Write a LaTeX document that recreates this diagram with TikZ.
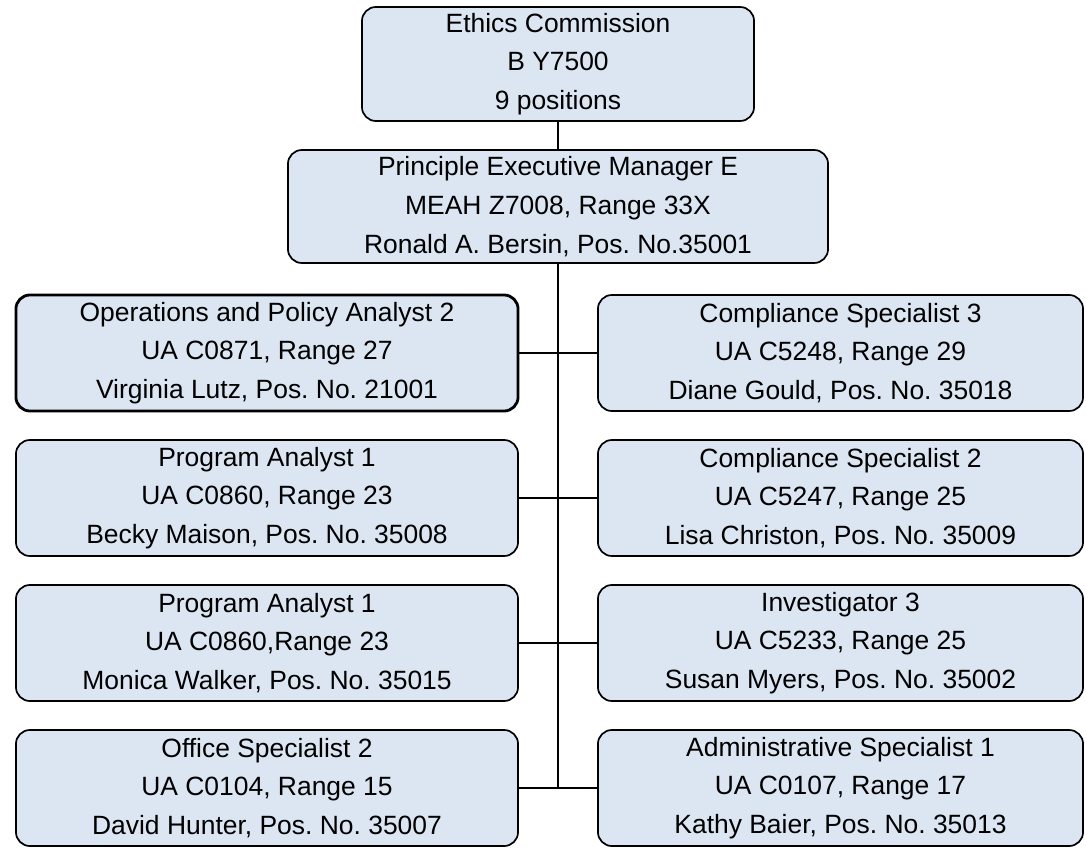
\documentclass[tikz,border=0pt]{standalone}
\usepackage{fontspec}
\setmainfont{Liberation Sans}
\definecolor{boxblue}{HTML}{DCE6F2}
\frenchspacing

\begin{document}
\begin{tikzpicture}[x=0.025cm,y=-0.025cm,line width=1.3pt]
    \tikzstyle{post}=[draw=black,line width=1.2pt,fill=boxblue,rounded corners=0.35cm,align=center,inner sep=0pt,font=\fontsize{18.8}{27.5}\selectfont]
    \tikzstyle{leftpost}=[post,minimum width=12.55cm,minimum height=2.9cm]
    \tikzstyle{rightpost}=[post,minimum width=12.125cm,minimum height=2.9cm]
    \useasboundingbox (0,0) rectangle (1086,848);

    \node[post,minimum width=9.8cm,minimum height=2.85cm] (EC) at (558,64)
        {Ethics Commission\\B Y7500\\9 positions};
    \node[post,minimum width=13.5cm,minimum height=2.825cm] (PEM) at (558,206.5)
        {Principle Executive Manager E\\MEAH Z7008, Range 33X\\Ronald A. Bersin, Pos. No.35001};

    \foreach \num/\y/\lw/\txt in {
            1/353/2pt/{Operations and Policy Analyst 2\\UA C0871, Range 27\\Virginia Lutz, Pos. No. 21001},
            2/498/1.2pt/{Program Analyst 1\\UA C0860, Range 23\\Becky Maison, Pos. No. 35008},
            3/643/1.2pt/{Program Analyst 1\\UA C0860,Range 23\\Monica Walker, Pos. No. 35015},
            4/788/1.2pt/{Office Specialist 2\\UA C0104, Range 15\\David Hunter, Pos. No. 35007}}
        \node[leftpost,line width=\lw] (L-\num) at (267,\y) {\txt};

    \foreach \num/\y/\txt in {
            1/353/{Compliance Specialist 3\\UA C5248, Range 29\\Diane Gould, Pos. No. 35018},
            2/498/{Compliance Specialist 2\\UA C5247, Range 25\\Lisa Christon, Pos. No. 35009},
            3/643/{Investigator 3\\UA C5233, Range 25\\Susan Myers, Pos. No. 35002},
            4/788/{Administrative Specialist 1\\UA C0107, Range 17\\Kathy Baier, Pos. No. 35013}}
        \node[rightpost] (R-\num) at (840.5,\y) {\txt};

    % trunk from the manager down to the last row
    \coordinate (J-4) at (PEM.south |- L-4.east);
    \draw (EC) -- (PEM);
    \draw (PEM.south) -- (J-4);
    \foreach \num in {1,...,4}
        \draw (L-\num.east) -- (R-\num.west);
\end{tikzpicture}
\end{document}
